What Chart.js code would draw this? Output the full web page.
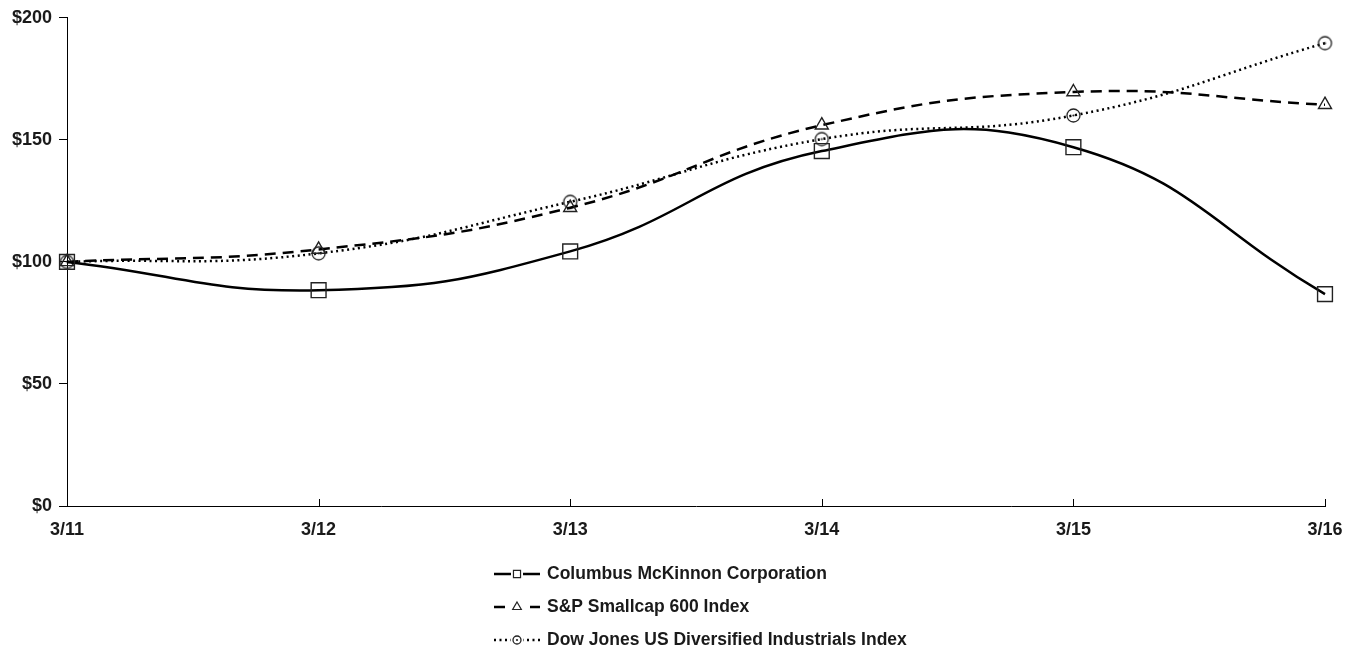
<!DOCTYPE html>
<html>
<head>
<meta charset="utf-8">
<script src="https://cdn.jsdelivr.net/npm/chart.js@4.4.1/dist/chart.umd.min.js"></script>
<style>
  html, body { margin: 0; padding: 0; background: #fff; }
  #wrap { width: 1358px; height: 653px; position: relative; }
</style>
</head>
<body>
<div id="wrap"><canvas id="perfChart"></canvas></div>
<script>
// Values
var periods = ['3/11', '3/12', '3/13', '3/14', '3/15', '3/16'];
var columbus = [100, 88.4, 104.3, 145.4, 147.0, 86.8];
var smallcap = [100, 105.1, 122.2, 156.0, 169.6, 164.4];
var dowJones = [100, 103.5, 124.6, 150.3, 160.0, 189.6];
var yTicks = [0, 50, 100, 150, 200];

var FONT = 'Liberation Sans, Arial, sans-serif';

// circle marker with a small dot in the middle
function dotCircle(r) {
  var c = document.createElement('canvas');
  var s = Math.ceil(r * 2 + 4);
  c.width = s; c.height = s;
  var g = c.getContext('2d');
  g.strokeStyle = '#222';
  g.lineWidth = 1.3;
  g.beginPath();
  g.arc(s / 2, s / 2, r, 0, Math.PI * 2);
  g.stroke();
  g.fillStyle = '#222';
  g.beginPath();
  g.arc(s / 2, s / 2, 1.1, 0, Math.PI * 2);
  g.fill();
  return c;
}

var circleBig = dotCircle(6.5);
var circleSmall = dotCircle(4);

// x ticks are drawn pointing into the plot
var innerTicks = {
  id: 'innerTicks',
  afterDraw: function (chart) {
    var xs = chart.scales.x;
    var ctx = chart.ctx;
    ctx.save();
    ctx.strokeStyle = '#000';
    ctx.lineWidth = 1;
    for (var i = 0; i < xs.ticks.length; i++) {
      var px = Math.round(xs.getPixelForTick(i)) + 0.5;
      ctx.beginPath();
      ctx.moveTo(px, xs.top);
      ctx.lineTo(px, xs.top - 7);
      ctx.stroke();
    }
    ctx.restore();
  }
};

// stacked legend under the plot
var stackLegend = {
  id: 'stackLegend',
  afterDraw: function (chart) {
    var ctx = chart.ctx;
    var x0 = 494, x1 = 540, tx = 547, y0 = 574, step = 33;
    chart.data.datasets.forEach(function (ds, i) {
      var y = y0 + i * step;
      ctx.save();
      ctx.strokeStyle = '#000';
      ctx.lineWidth = ds.borderWidth;
      ctx.setLineDash(ds.borderDash || []);
      ctx.beginPath();
      ctx.moveTo(x0, y);
      ctx.lineTo(x1, y);
      ctx.stroke();
      ctx.setLineDash([]);
      var mx = (x0 + x1) / 2;
      ctx.clearRect(mx - 6, y - 6, 12, 12);
      if (ds.legendMarker === 'dot') {
        ctx.drawImage(circleSmall, mx - circleSmall.width / 2, y - circleSmall.height / 2);
      } else {
        ctx.strokeStyle = '#222';
        ctx.fillStyle = '#fff';
        ctx.lineWidth = 1.2;
        Chart.helpers.drawPoint(ctx, { pointStyle: ds.legendMarker, radius: 5, rotation: 0, borderWidth: 1.2 }, mx, y);
      }
      ctx.fillStyle = '#1a1a1a';
      ctx.font = 'bold 17.5px ' + FONT;
      ctx.textBaseline = 'middle';
      ctx.textAlign = 'left';
      ctx.fillText(ds.label, tx, y);
      ctx.restore();
    });
  }
};

new Chart(document.getElementById('perfChart'), {
  type: 'line',
  data: {
    labels: periods,
    datasets: [
      {
        label: 'Columbus McKinnon Corporation',
        data: columbus,
        borderColor: '#000',
        borderWidth: 2.5,
        pointStyle: 'rect',
        pointRadius: 10.5,
        pointBorderColor: '#222',
        pointBorderWidth: 1.4,
        pointBackgroundColor: 'rgba(0,0,0,0)',
        legendMarker: 'rect',
        tension: 0.45,
        fill: false
      },
      {
        label: 'S&P Smallcap 600 Index',
        data: smallcap,
        borderColor: '#000',
        borderWidth: 2.5,
        borderDash: [11, 7],
        pointStyle: 'triangle',
        pointRadius: 7.5,
        pointBorderColor: '#222',
        pointBorderWidth: 1.4,
        pointBackgroundColor: 'rgba(0,0,0,0)',
        legendMarker: 'triangle',
        tension: 0.45,
        fill: false
      },
      {
        label: 'Dow Jones US Diversified Industrials Index',
        data: dowJones,
        borderColor: '#000',
        borderWidth: 2.5,
        borderDash: [2, 3.5],
        pointStyle: circleBig,
        pointRadius: 7,
        legendMarker: 'dot',
        tension: 0.45,
        fill: false
      }
    ]
  },
  options: {
    responsive: true,
    maintainAspectRatio: false,
    animation: false,
    layout: { padding: { top: 9, right: 33, left: 0, bottom: 117 } },
    plugins: {
      legend: { display: false },
      tooltip: { enabled: false }
    },
    scales: {
      x: {
        offset: false,
        grid: { display: false },
        border: { display: true, color: '#000', width: 1 },
        afterFit: function (s) { s.height = 30; },
        ticks: {
          color: '#1a1a1a',
          font: { family: FONT, size: 18, weight: 'bold' },
          maxRotation: 0,
          autoSkip: false,
          padding: 5
        }
      },
      y: {
        min: 0,
        max: 200,
        afterFit: function (s) { s.width = 67; },
        afterBuildTicks: function (s) {
          s.ticks = yTicks.map(function (v) { return { value: v }; });
        },
        grid: { drawOnChartArea: false, drawTicks: true, tickLength: 8, color: '#000' },
        border: { display: true, color: '#000', width: 1 },
        ticks: {
          color: '#1a1a1a',
          font: { family: FONT, size: 18, weight: 'bold' },
          padding: 7,
          callback: function (v) { return '$' + v; }
        }
      }
    }
  },
  plugins: [innerTicks, stackLegend]
});
</script>
</body>
</html>
